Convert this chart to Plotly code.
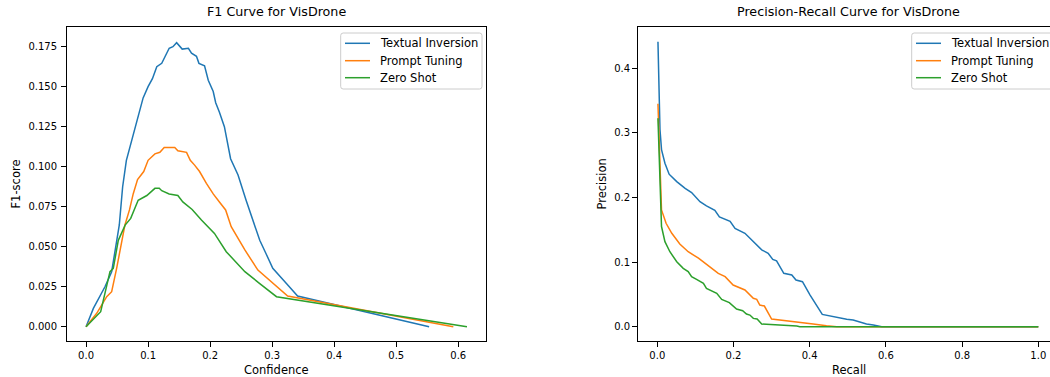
import plotly.graph_objects as go

# ---- F1 curve data (confidence, F1) ----
ti_conf = [0.0, 0.0118, 0.0305, 0.0413, 0.0536, 0.059, 0.065, 0.076, 0.083, 0.092, 0.100, 0.107, 0.114, 0.122, 0.134, 0.140, 0.146, 0.155, 0.165, 0.170, 0.178, 0.182, 0.191, 0.197, 0.205, 0.209, 0.215, 0.223, 0.233, 0.245, 0.258, 0.269, 0.280, 0.290, 0.301, 0.323, 0.341, 0.553]
ti_f1 = [0.0, 0.0115, 0.025, 0.0344, 0.0636, 0.0875, 0.104, 0.120, 0.131, 0.143, 0.150, 0.155, 0.1625, 0.1646, 0.174, 0.175, 0.1775, 0.1735, 0.174, 0.171, 0.169, 0.1646, 0.163, 0.154, 0.147, 0.140, 0.134, 0.125, 0.105, 0.0948, 0.079, 0.0667, 0.054, 0.0458, 0.0365, 0.027, 0.0192, 0.0]

pt_conf = [0.0, 0.0172, 0.0333, 0.0413, 0.0493, 0.0627, 0.070, 0.076, 0.083, 0.093, 0.100, 0.111, 0.119, 0.126, 0.143, 0.148, 0.162, 0.168, 0.175, 0.183, 0.194, 0.205, 0.215, 0.225, 0.234, 0.256, 0.277, 0.301, 0.325, 0.592]
pt_f1 = [0.0, 0.0084, 0.0188, 0.0219, 0.0365, 0.0636, 0.073, 0.083, 0.092, 0.097, 0.104, 0.108, 0.109, 0.112, 0.112, 0.110, 0.109, 0.104, 0.101, 0.097, 0.0896, 0.083, 0.078, 0.073, 0.0625, 0.048, 0.0354, 0.027, 0.0192, 0.0]

zs_conf = [0.0, 0.0236, 0.0386, 0.0439, 0.052, 0.063, 0.072, 0.084, 0.098, 0.111, 0.118, 0.122, 0.134, 0.148, 0.156, 0.171, 0.186, 0.207, 0.226, 0.256, 0.280, 0.307, 0.614]
zs_f1 = [0.0, 0.0094, 0.0344, 0.0365, 0.054, 0.0635, 0.0677, 0.079, 0.082, 0.0865, 0.0865, 0.085, 0.083, 0.082, 0.078, 0.0733, 0.0667, 0.0583, 0.0469, 0.0344, 0.027, 0.0188, 0.0]

# ---- Precision-Recall data (recall, precision) ----
ti_rec = [0.0017, 0.007, 0.011, 0.020, 0.031, 0.051, 0.073, 0.090, 0.112, 0.129, 0.151, 0.163, 0.191, 0.204, 0.230, 0.243, 0.256, 0.274, 0.291, 0.303, 0.313, 0.332, 0.353, 0.364, 0.381, 0.401, 0.433, 0.453, 0.479, 0.497, 0.514, 0.532, 0.549, 0.567, 0.589, 1.0]
ti_prec = [0.441, 0.305, 0.274, 0.253, 0.236, 0.2245, 0.214, 0.2075, 0.1935, 0.187, 0.180, 0.170, 0.163, 0.152, 0.1445, 0.137, 0.129, 0.119, 0.1135, 0.104, 0.102, 0.0826, 0.080, 0.0723, 0.0697, 0.049, 0.019, 0.0165, 0.0139, 0.0114, 0.0103, 0.0067, 0.0041, 0.0026, 0.0, 0.0]

pt_rec = [0.0017, 0.007, 0.011, 0.023, 0.038, 0.059, 0.081, 0.108, 0.121, 0.143, 0.160, 0.178, 0.199, 0.217, 0.230, 0.252, 0.261, 0.269, 0.281, 0.300, 0.326, 0.344, 0.379, 0.409, 0.444, 0.471, 1.0]
pt_prec = [0.345, 0.2426, 0.1806, 0.160, 0.1445, 0.128, 0.116, 0.106, 0.1006, 0.0903, 0.0826, 0.0774, 0.0645, 0.060, 0.0568, 0.0439, 0.0423, 0.0335, 0.032, 0.0119, 0.0103, 0.0083, 0.0067, 0.0041, 0.0015, 0.0, 0.0]

zs_rec = [0.0017, 0.011, 0.020, 0.033, 0.051, 0.068, 0.081, 0.090, 0.103, 0.121, 0.129, 0.156, 0.169, 0.189, 0.208, 0.224, 0.234, 0.243, 0.252, 0.262, 0.274, 0.296, 0.339, 0.366, 0.374, 1.0]
zs_prec = [0.3226, 0.155, 0.1316, 0.116, 0.1006, 0.0903, 0.0852, 0.0774, 0.0733, 0.0671, 0.0594, 0.0516, 0.0423, 0.0372, 0.0274, 0.0248, 0.0196, 0.018, 0.0129, 0.0119, 0.0041, 0.0036, 0.0026, 0.001, 0.0, 0.0]

names = ["Textual Inversion", "Prompt Tuning", "Zero Shot"]
colors = ["#1f77b4", "#ff7f0e", "#2ca02c"]

W, H = 1050, 377
FONT = "DejaVu Sans"
TICK_SIZE = 10
LABEL_SIZE = 11.5
TITLE_SIZE = 12.7

def px_x(p):
    return p / W

def px_y(p):
    return (H - p) / H

fig = go.Figure()
f1_sets = [(ti_conf, ti_f1), (pt_conf, pt_f1), (zs_conf, zs_f1)]
pr_sets = [(ti_rec, ti_prec), (pt_rec, pt_prec), (zs_rec, zs_prec)]
for (x, y), n, c in zip(f1_sets, names, colors):
    fig.add_trace(go.Scatter(x=x, y=y, mode="lines", name=n, line=dict(color=c, width=1.5),
                             xaxis="x", yaxis="y", showlegend=False))
for (x, y), n, c in zip(pr_sets, names, colors):
    fig.add_trace(go.Scatter(x=x, y=y, mode="lines", name=n, line=dict(color=c, width=1.5),
                             xaxis="x2", yaxis="y2", showlegend=False))

axis_common = dict(showgrid=False, zeroline=False, showline=True, linecolor="black", linewidth=0.8,
                   ticks="outside", ticklen=5, tickwidth=0.8, tickcolor="black",
                   tickfont=dict(family=FONT, size=TICK_SIZE, color="black"))

ydom = [px_y(341), px_y(27)]
fig.update_layout(
    width=W, height=H, margin=dict(l=0, r=0, t=0, b=0),
    paper_bgcolor="white", plot_bgcolor="white",
    font=dict(family=FONT, size=10, color="black"),
    showlegend=False,
    xaxis=dict(domain=[px_x(67), px_x(486)], range=[-0.0307, 0.6447], anchor="y",
               tickvals=[0, 0.1, 0.2, 0.3, 0.4, 0.5, 0.6], ticktext=["0.0", "0.1", "0.2", "0.3", "0.4", "0.5", "0.6"],
               mirror=True, **axis_common),
    yaxis=dict(domain=ydom, range=[-0.0089, 0.1873], anchor="x",
               tickvals=[0, 0.025, 0.05, 0.075, 0.1, 0.125, 0.15, 0.175],
               ticktext=["0.000", "0.025", "0.050", "0.075", "0.100", "0.125", "0.150", "0.175"],
               mirror=True, ticklabelstandoff=2, **axis_common),
    xaxis2=dict(domain=[px_x(638), 1.0], range=[-0.0507, 1.0307], anchor="y2",
                tickvals=[0, 0.2, 0.4, 0.6, 0.8, 1.0], ticktext=["0.0", "0.2", "0.4", "0.6", "0.8", "1.0"],
                mirror=True, **axis_common),
    yaxis2=dict(domain=ydom, range=[-0.0221, 0.4637], anchor="x2",
                tickvals=[0, 0.1, 0.2, 0.3, 0.4], ticktext=["0.0", "0.1", "0.2", "0.3", "0.4"],
                mirror=False, **axis_common),
)

annots = [
    dict(text="F1 Curve for VisDrone", x=px_x(276.5), y=px_y(11.5), xanchor="center", yanchor="middle",
         font=dict(size=TITLE_SIZE)),
    dict(text="Precision-Recall Curve for VisDrone", x=px_x(848.5), y=px_y(11.5), xanchor="center", yanchor="middle",
         font=dict(size=TITLE_SIZE)),
    dict(text="Confidence", x=px_x(276.5), y=px_y(370), xanchor="center", yanchor="middle", font=dict(size=LABEL_SIZE)),
    dict(text="Recall", x=px_x(848.5), y=px_y(370), xanchor="center", yanchor="middle", font=dict(size=LABEL_SIZE)),
    dict(text="F1-score", x=px_x(15.5), y=px_y(184), xanchor="center", yanchor="middle", textangle=-90, font=dict(size=LABEL_SIZE)),
    dict(text="Precision", x=px_x(601.5), y=px_y(184), xanchor="center", yanchor="middle", textangle=-90, font=dict(size=LABEL_SIZE)),
]

# ---- hand-built legends (matplotlib style) ----
shapes = []
def rounded_box(x0, y0, x1, y1, r=2.5):
    X0, X1 = px_x(x0), px_x(x1)
    Y0, Y1 = px_y(y0), px_y(y1)
    rx, ry = r / W, r / H
    path = (f"M {X0+rx},{Y0} L {X1-rx},{Y0} Q {X1},{Y0} {X1},{Y0-ry} "
            f"L {X1},{Y1+ry} Q {X1},{Y1} {X1-rx},{Y1} L {X0+rx},{Y1} Q {X0},{Y1} {X0},{Y1+ry} "
            f"L {X0},{Y0-ry} Q {X0},{Y0} {X0+rx},{Y0} Z")
    return dict(type="path", path=path, xref="paper", yref="paper",
                line=dict(color="#cccccc", width=1), fillcolor="rgba(255,255,255,0.8)", layer="above")

legend_rows = [43.3, 60.7, 77.7]
for (bx0, bx1, lx0, lx1, tx) in [(340.7, 482, 345, 370, 378), (911.7, 1070, 916, 941, 949.3)]:
    shapes.append(rounded_box(bx0, 33, bx1, 89))
    for yy, n, c in zip(legend_rows, names, colors):
        shapes.append(dict(type="line", xref="paper", yref="paper", x0=px_x(lx0), x1=px_x(lx1),
                           y0=px_y(yy), y1=px_y(yy), line=dict(color=c, width=1.5), layer="above"))
        annots.append(dict(text=n, x=px_x(tx), y=px_y(yy), xanchor="left", yanchor="middle",
                           font=dict(size=LABEL_SIZE)))

for a in annots:
    a.update(xref="paper", yref="paper", showarrow=False)
    a["font"].update(family=FONT, color="black")
fig.update_layout(annotations=annots, shapes=shapes)

fig.write_html("out.html", config={"displayModeBar": False},
               post_script="document.body.style.margin='0';document.body.style.overflow='hidden';"
                           "document.documentElement.style.overflow='hidden';")
